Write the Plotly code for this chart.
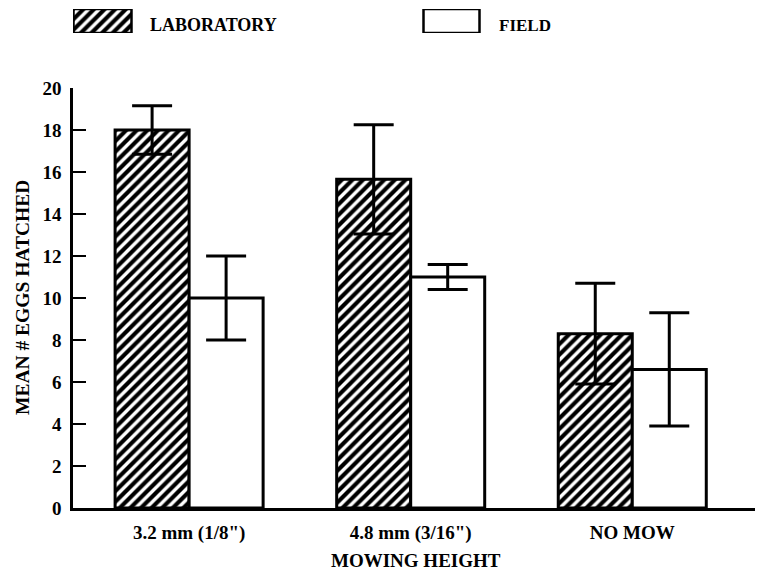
import plotly.graph_objects as go

# ---- data ----
categories = ['3.2 mm (1/8")', '4.8 mm (3/16")', 'NO MOW']
lab_mean = [18.0, 15.65, 8.3]
lab_err = [1.15, 2.6, 2.4]
field_mean = [10.0, 11.0, 6.6]
field_err = [2.0, 0.6, 2.7]
y_ticks = list(range(0, 21, 2))
series_names = ["LABORATORY", "FIELD"]

FONT = "Liberation Serif"
HATCH = dict(shape="/", fgcolor="black", bgcolor="white", size=7.5, solidity=0.55)

fig = go.Figure()

fig.add_trace(go.Bar(
    x=categories, y=lab_mean, name=series_names[0],
    marker=dict(color="white", line=dict(color="black", width=3), pattern=HATCH),
    error_y=dict(type="data", array=lab_err, visible=True, color="black", thickness=3, width=20),
    showlegend=False,
))
fig.add_trace(go.Bar(
    x=categories, y=field_mean, name=series_names[1],
    marker=dict(color="white", line=dict(color="black", width=3)),
    error_y=dict(type="data", array=field_err, visible=True, color="black", thickness=3, width=20),
    showlegend=False,
))

# ---- legend keys drawn on an auxiliary axis ----
fig.add_trace(go.Bar(
    x=[29.5], y=[1], width=[58], xaxis="x2", yaxis="y2", showlegend=False, hoverinfo="skip",
    marker=dict(color="white", line=dict(color="black", width=2.5), pattern=HATCH),
))
fig.add_trace(go.Bar(
    x=[378.5], y=[1], width=[56], xaxis="x2", yaxis="y2", showlegend=False, hoverinfo="skip",
    marker=dict(color="white", line=dict(color="black", width=2.5)),
))

fig.update_layout(
    template="none",
    width=755, height=564,
    margin=dict(l=65, r=0, t=0, b=64, pad=0, autoexpand=False),
    paper_bgcolor="white", plot_bgcolor="white",
    barmode="group", bargap=0.332, bargroupgap=0,
    font=dict(family=FONT, color="black", size=16),
    xaxis=dict(
        type="category", range=[-0.524, 2.59], automargin=False,
        showline=True, linecolor="black", linewidth=2.5,
        ticks="", showgrid=False, zeroline=False,
        tickfont=dict(family=FONT, size=19, weight="bold"),
        ticklabelstandoff=5,
    ),
    yaxis=dict(
        domain=[0, 0.84], range=[0, 20], automargin=False,
        tickvals=y_ticks, ticktext=[str(v) for v in y_ticks],
        showline=True, linecolor="black", linewidth=2.5,
        ticks="inside", ticklen=13, tickwidth=2, tickcolor="black",
        showgrid=False, zeroline=False,
        tickfont=dict(family=FONT, size=19, weight="bold"),
        ticklabelstandoff=5,
    ),
    xaxis2=dict(domain=[0, 1], range=[0, 690], anchor="y2", visible=False, automargin=False),
    yaxis2=dict(domain=[0.95, 0.998], range=[0, 1], anchor="x2", visible=False, automargin=False),
    annotations=[
        dict(text="LABORATORY", xref="paper", yref="paper", x=0.1087, y=0.966,
             xanchor="left", yanchor="middle", showarrow=False,
             font=dict(family=FONT, size=18, weight="bold")),
        dict(text="FIELD", xref="paper", yref="paper", x=0.6145, y=0.966,
             xanchor="left", yanchor="middle", showarrow=False,
             font=dict(family=FONT, size=17, weight="bold")),
        dict(text="MEAN # EGGS HATCHED", xref="paper", yref="paper", x=-0.0739, y=0.42,
             xanchor="center", yanchor="middle", textangle=-90, showarrow=False,
             font=dict(family=FONT, size=19.5, weight="bold")),
        dict(text="MOWING HEIGHT", xref="paper", yref="paper", x=0.497, y=-0.104,
             xanchor="center", yanchor="middle", showarrow=False,
             font=dict(family=FONT, size=19, weight="bold")),
    ],
)

fig.write_html("out.html")
